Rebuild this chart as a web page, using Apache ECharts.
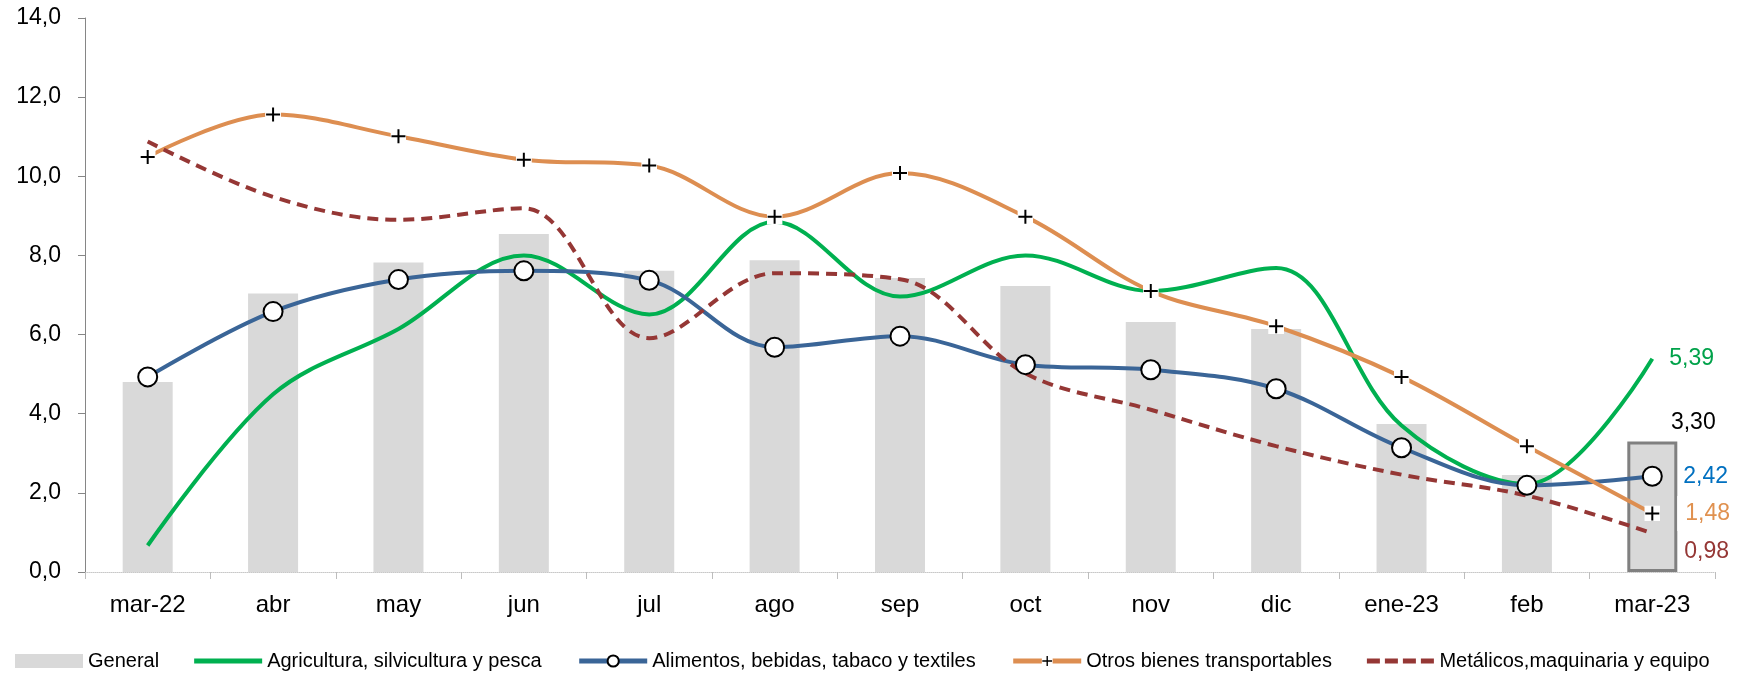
<!DOCTYPE html>
<html><head><meta charset="utf-8">
<script src="https://cdn.jsdelivr.net/npm/echarts@6/dist/echarts.min.js"></script>
<style>html,body{margin:0;padding:0;background:#fff}#c{width:1742px;height:676px}</style>
</head><body><div id="c"></div>
<script>
const categories = ['mar-22','abr','may','jun','jul','ago','sep','oct','nov','dic','ene-23','feb','mar-23'];
const general     = [4.80,7.04,7.82,8.54,7.61,7.88,7.43,7.23,6.32,6.14,3.74,2.45,3.30];
const agricultura = [0.67,4.49,6.14,8.00,6.51,8.85,6.96,8.00,7.10,7.68,3.70,2.22,5.39];
const alimentos   = [4.93,6.58,7.39,7.61,7.37,5.68,5.96,5.24,5.11,4.63,3.14,2.19,2.42];
const otros       = [10.49,11.56,11.01,10.42,10.27,8.98,10.08,8.98,7.10,6.21,4.93,3.18,1.48];
const metalicos   = [10.88,9.48,8.90,9.19,5.91,7.55,7.40,5.02,4.10,3.18,2.46,1.93,0.98];
const seriesNames = ['General','Agricultura, silvicultura y pesca','Alimentos, bebidas, tabaco y textiles','Otros bienes transportables','Metálicos,maquinaria y equipo'];
const yMin = 0, yMax = 14, yStep = 2;

const FONT = "'Liberation Sans',Arial,sans-serif";
const fmt = v => Number(v).toFixed(2).replace('.', ',');
const last = categories.length - 1;
const plusSvg = "<svg xmlns='http://www.w3.org/2000/svg' width='16' height='16'><rect x='0' y='0' width='16' height='16' fill='white'/><path d='M8 1V15M1 8H15' stroke='black' stroke-width='2'/></svg>";
const plusSymbol = 'image://data:image/svg+xml;charset=utf-8,' + encodeURIComponent(plusSvg);
const SMOOTH = 0.35;
const greenIcon = 'path://M0,0M0,14M0,4.5H68V9.5H0Z';
const dashIcon = 'path://M0,0M0,14M0,4.5H13V9.5H0Z M18,4.5H31V9.5H18Z M36,4.5H49V9.5H36Z M54,4.5H67V9.5H54Z';

const chart = echarts.init(document.getElementById('c'), null, {renderer: 'canvas'});
chart.setOption({
  animation: false,
  textStyle: {fontFamily: FONT},
  grid: {left: 85, right: 27, top: 18, bottom: 104, containLabel: false},
  legend: {
    left: 10, top: 646, itemWidth: 68, itemHeight: 14, itemGap: 35,
    lineStyle: {width: 5},
    textStyle: {fontSize: 20, color: '#000', fontFamily: FONT},
    data: [
      {name: seriesNames[0], icon: 'rect'},
      {name: seriesNames[1], icon: greenIcon},
      seriesNames[2], seriesNames[3],
      {name: seriesNames[4], icon: dashIcon}
    ]
  },
  xAxis: {
    type: 'category', data: categories, boundaryGap: true,
    axisLine: {lineStyle: {color: '#c8c8c8', type: 'dotted', width: 1}},
    axisTick: {show: true, length: 7, lineStyle: {color: '#bdbdbd'}},
    axisLabel: {fontSize: 24, color: '#000', margin: 21, fontFamily: FONT}
  },
  yAxis: {
    type: 'value', min: yMin, max: yMax, interval: yStep,
    splitLine: {show: false},
    axisLine: {show: true, lineStyle: {color: '#868686', width: 1}},
    axisTick: {show: true, length: 7, lineStyle: {color: '#868686'}},
    axisLabel: {fontSize: 23, color: '#000', margin: 24, fontFamily: FONT,
      formatter: v => v.toFixed(1).replace('.', ',')}
  },
  series: [
    {
      name: seriesNames[0], type: 'bar', barWidth: 50,
      itemStyle: {color: '#d9d9d9'},
      emphasis: {disabled: true},
      data: general.map((v, i) => i === last ? {
        value: v,
        itemStyle: {borderColor: '#808080', borderWidth: 3},
        label: {show: true, position: 'top', offset: [41, -2], formatter: p => fmt(p.value),
          color: '#000', fontSize: 23, fontFamily: FONT}
      } : v)
    },
    {
      name: seriesNames[1], type: 'line', smooth: SMOOTH, symbol: 'none',
      color: '#00b050',
      lineStyle: {color: '#00b050', width: 4},
      emphasis: {disabled: true},
      endLabel: {show: true, formatter: p => fmt(p.value), color: '#00a24a', fontSize: 23, distance: 17, fontFamily: FONT},
      data: agricultura
    },
    {
      name: seriesNames[2], type: 'line', smooth: SMOOTH, symbol: 'circle', symbolSize: 19,
      color: '#3a6597',
      itemStyle: {color: '#ffffff', borderColor: '#000000', borderWidth: 2},
      lineStyle: {color: '#3a6597', width: 4},
      emphasis: {disabled: true},
      endLabel: {show: true, formatter: p => fmt(p.value), color: '#0070c0', fontSize: 23, distance: 31, fontFamily: FONT},
      data: alimentos
    },
    {
      name: seriesNames[3], type: 'line', smooth: SMOOTH, symbol: plusSymbol, symbolSize: 16,
      color: '#dd8e51',
      lineStyle: {color: '#dd8e51', width: 4},
      emphasis: {disabled: true},
      endLabel: {show: true, formatter: p => fmt(p.value), color: '#e0914f', fontSize: 23, distance: 25,
        backgroundColor: '#fff', padding: [6, 2, 6, 8], fontFamily: FONT},
      data: otros
    },
    {
      name: seriesNames[4], type: 'line', smooth: SMOOTH, symbol: 'none',
      color: '#953735',
      lineStyle: {color: '#953735', width: 4, type: [11, 7]},
      emphasis: {disabled: true},
      endLabel: {show: true, formatter: p => fmt(p.value), color: '#953735', fontSize: 23, distance: 32, offset: [0, 18], fontFamily: FONT},
      data: metalicos
    }
  ]
});
</script></body></html>
